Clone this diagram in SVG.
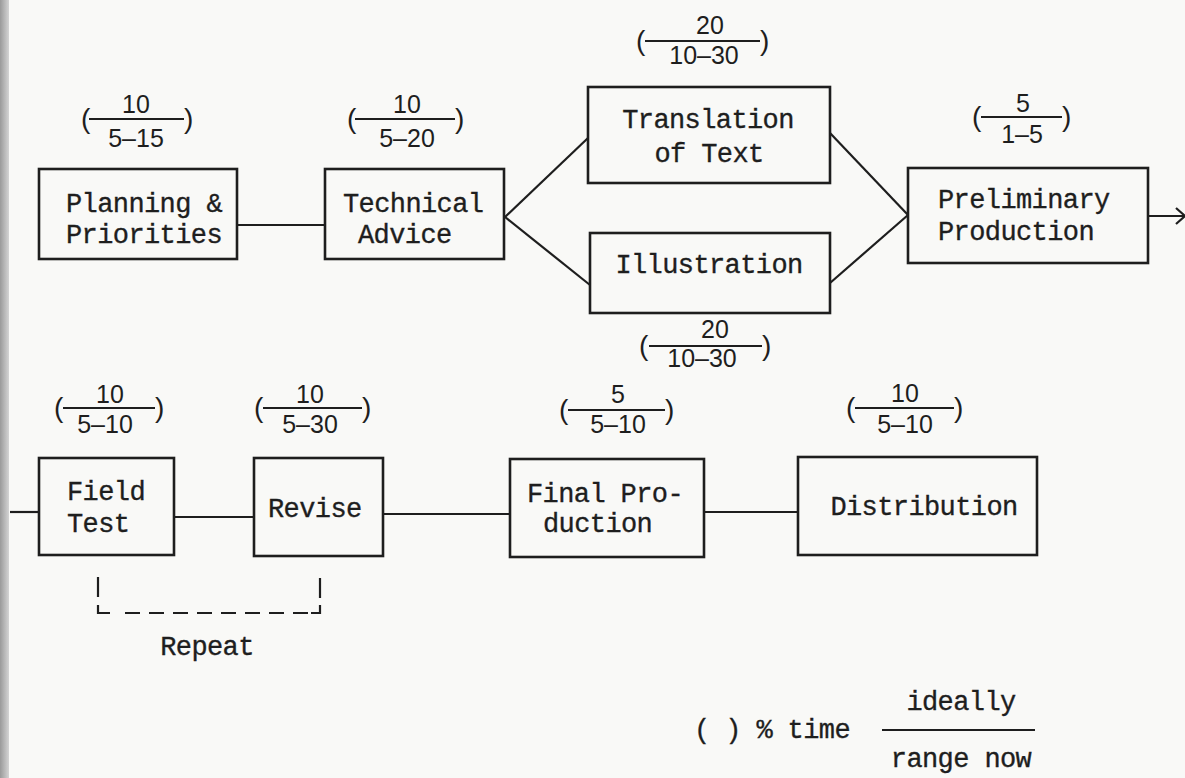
<svg xmlns="http://www.w3.org/2000/svg" width="1185" height="778" viewBox="0 0 1185 778">
  <defs>
    <style>
      .box { fill: none; stroke: #1e1e1e; stroke-width: 2.6; }
      .wire { fill: none; stroke: #1e1e1e; stroke-width: 2.2; }
      .lbl { font-family: "Liberation Mono", "DejaVu Sans Mono", monospace; font-size: 27px; letter-spacing: -0.6px; fill: #1e1e1e; stroke: #1e1e1e; stroke-width: 0.35; }
      .num { font-family: "Liberation Sans", "DejaVu Sans", sans-serif; font-size: 25px; fill: #1e1e1e; text-anchor: middle; }
      .par { font-family: "Liberation Sans", "DejaVu Sans", sans-serif; font-size: 28px; fill: #1e1e1e; }
      .bar { stroke: #1e1e1e; stroke-width: 2; }
      .mid { text-anchor: middle; }
    </style>
    <linearGradient id="edge" x1="0" y1="0" x2="1" y2="0">
      <stop offset="0" stop-color="#9a9a9a"/>
      <stop offset="1" stop-color="#d4d4d4"/>
    </linearGradient>
  </defs>

  <!-- paper -->
  <rect x="0" y="0" width="1185" height="778" fill="#f9f9f7"/>
  <rect x="0" y="0" width="9" height="778" fill="url(#edge)"/>

  <!-- connectors -->
  <g id="connectors">
    <path class="wire" d="M237,225 H325"/>
    <path class="wire" d="M505,217 L588,138"/>
    <path class="wire" d="M505,217 L590,285"/>
    <path class="wire" d="M830,133 L908,215"/>
    <path class="wire" d="M830,283 L908,215"/>
    <path class="wire" d="M1148,216 H1185"/>
    <path class="wire" d="M1176,208 L1185,216 L1176,224"/>
    <path class="wire" d="M10,512 H39"/>
    <path class="wire" d="M174,517 H254"/>
    <path class="wire" d="M383,514 H510"/>
    <path class="wire" d="M704,512 H798"/>
    <!-- repeat loop bracket -->
    <path class="wire" d="M98,577 V597"/>
    <path class="wire" d="M98,605 V613 H110"/>
    <path class="wire" d="M125,613 H310" stroke-dasharray="15 9"/>
    <path class="wire" d="M320,578 V598"/>
    <path class="wire" d="M311,613 H320 V605"/>
  </g>

  <!-- top row -->
  <g id="planning">
    <rect class="box" x="39" y="169" width="198" height="90"/>
    <text class="lbl" x="66" y="212">Planning &amp;</text>
    <text class="lbl" x="66" y="243">Priorities</text>
    <text class="par" x="81" y="128">(</text>
    <line class="bar" x1="89" y1="119" x2="184" y2="119"/>
    <text class="par" x="184" y="128">)</text>
    <text class="num" x="136" y="113">10</text>
    <text class="num" x="136" y="147">5–15</text>
  </g>

  <g id="technical">
    <rect class="box" x="325" y="169" width="179" height="90"/>
    <text class="lbl" x="343" y="212">Technical</text>
    <text class="lbl" x="358" y="243">Advice</text>
    <text class="par" x="347" y="128">(</text>
    <line class="bar" x1="355" y1="119" x2="455" y2="119"/>
    <text class="par" x="455" y="128">)</text>
    <text class="num" x="407" y="113">10</text>
    <text class="num" x="407" y="147">5–20</text>
  </g>

  <g id="translation">
    <rect class="box" x="588" y="87" width="242" height="96"/>
    <text class="lbl mid" x="708" y="128">Translation</text>
    <text class="lbl mid" x="709" y="162">of Text</text>
    <text class="par" x="636" y="50">(</text>
    <line class="bar" x1="645" y1="41" x2="760" y2="41"/>
    <text class="par" x="760" y="50">)</text>
    <text class="num" x="710" y="34">20</text>
    <text class="num" x="704" y="64">10–30</text>
  </g>

  <g id="illustration">
    <rect class="box" x="590" y="233" width="240" height="80"/>
    <text class="lbl mid" x="709" y="273">Illustration</text>
    <text class="par" x="639" y="355">(</text>
    <line class="bar" x1="649" y1="346" x2="762" y2="346"/>
    <text class="par" x="762" y="355">)</text>
    <text class="num" x="715" y="338">20</text>
    <text class="num" x="702" y="367">10–30</text>
  </g>

  <g id="preliminary">
    <rect class="box" x="908" y="168" width="240" height="95"/>
    <text class="lbl" x="938" y="208">Preliminary</text>
    <text class="lbl" x="938" y="240">Production</text>
    <text class="par" x="972" y="126">(</text>
    <line class="bar" x1="981" y1="117" x2="1062" y2="117"/>
    <text class="par" x="1062" y="126">)</text>
    <text class="num" x="1023" y="112">5</text>
    <text class="num" x="1022" y="143">1–5</text>
  </g>

  <!-- bottom row -->
  <g id="field-test">
    <rect class="box" x="39" y="458" width="135" height="97"/>
    <text class="lbl" x="67" y="500">Field</text>
    <text class="lbl" x="67" y="532">Test</text>
    <text class="par" x="54" y="417">(</text>
    <line class="bar" x1="63" y1="408" x2="155" y2="408"/>
    <text class="par" x="155" y="417">)</text>
    <text class="num" x="110" y="403">10</text>
    <text class="num" x="105" y="433">5–10</text>
  </g>

  <g id="revise">
    <rect class="box" x="254" y="458" width="129" height="98"/>
    <text class="lbl" x="268" y="517">Revise</text>
    <text class="par" x="254" y="417">(</text>
    <line class="bar" x1="263" y1="408" x2="362" y2="408"/>
    <text class="par" x="362" y="417">)</text>
    <text class="num" x="310" y="403">10</text>
    <text class="num" x="310" y="433">5–30</text>
  </g>

  <g id="final-production">
    <rect class="box" x="510" y="459" width="194" height="98"/>
    <text class="lbl" x="527" y="502">Final Pro-</text>
    <text class="lbl" x="543" y="532">duction</text>
    <text class="par" x="559" y="419">(</text>
    <line class="bar" x1="568" y1="410" x2="665" y2="410"/>
    <text class="par" x="665" y="419">)</text>
    <text class="num" x="618" y="403">5</text>
    <text class="num" x="618" y="433">5–10</text>
  </g>

  <g id="distribution">
    <rect class="box" x="798" y="457" width="239" height="98"/>
    <text class="lbl mid" x="924" y="515">Distribution</text>
    <text class="par" x="846" y="417">(</text>
    <line class="bar" x1="855" y1="408" x2="954" y2="408"/>
    <text class="par" x="954" y="417">)</text>
    <text class="num" x="905" y="402">10</text>
    <text class="num" x="905" y="433">5–10</text>
  </g>

  <g id="repeat-label">
    <text class="lbl mid" x="207" y="655">Repeat</text>
  </g>

  <!-- key -->
  <g id="key">
    <text class="lbl" x="694" y="738">( ) % time</text>
    <line class="bar" x1="882" y1="730" x2="1035" y2="730"/>
    <text class="lbl mid" x="961" y="710">ideally</text>
    <text class="lbl mid" x="961" y="767">range now</text>
  </g>
</svg>
